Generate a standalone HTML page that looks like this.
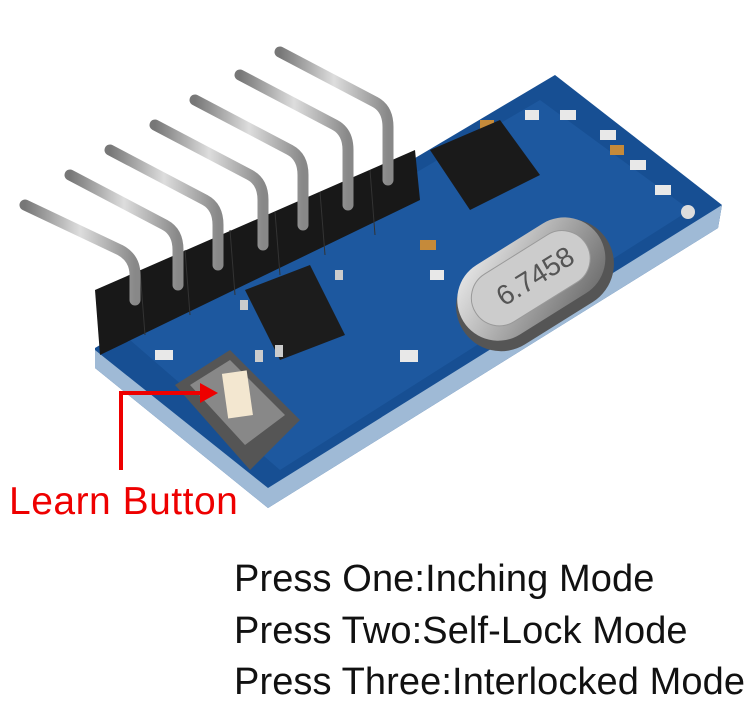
<!DOCTYPE html>
<html><head><meta charset="utf-8"><style>
body{margin:0;background:#fff;width:750px;height:722px;overflow:hidden;font-family:"Liberation Sans",sans-serif}
.t{position:absolute;font-size:38px;color:#111;left:234px;white-space:nowrap;letter-spacing:0.1px}
</style></head><body>
<svg width="750" height="722" style="position:absolute;left:0;top:0">
<defs>
<linearGradient id="pin" x1="0" x2="1"><stop offset="0" stop-color="#777"/><stop offset=".5" stop-color="#ddd"/><stop offset="1" stop-color="#888"/></linearGradient>
<linearGradient id="xt" x1="0" y1="0" x2="1" y2="1"><stop offset="0" stop-color="#eee"/><stop offset=".5" stop-color="#aaa"/><stop offset="1" stop-color="#666"/></linearGradient>
</defs>
<polygon points="95,348 555,75 722,205 718,228 268,508 95,368" fill="#174f93"/>
<polygon points="95,368 268,508 718,228 722,205 268,488 95,350" fill="#9fbad6"/>
<polygon points="130,340 540,100 690,210 280,470" fill="#215fa6" opacity=".6"/>
<g fill="#e8e8e8">
<rect x="560" y="110" width="16" height="10"/><rect x="600" y="130" width="16" height="10"/><rect x="630" y="160" width="16" height="10"/><rect x="655" y="185" width="16" height="10"/>
<rect x="525" y="110" width="14" height="10"/><rect x="430" y="270" width="14" height="10"/><rect x="400" y="350" width="18" height="12"/><rect x="155" y="350" width="18" height="10"/>
</g>
<g fill="#c58a3a"><rect x="480" y="120" width="14" height="10"/><rect x="420" y="240" width="16" height="10"/><rect x="610" y="145" width="14" height="10"/></g>
<circle cx="688" cy="212" r="7" fill="#ddd"/>
<polygon points="430,150 500,120 540,175 470,210" fill="#1a1a1a"/>
<polygon points="245,290 310,265 345,335 280,360" fill="#1c1c1c"/>
<g fill="#ccc"><rect x="255" y="350" width="8" height="12"/><rect x="275" y="345" width="8" height="12"/><rect x="240" y="300" width="8" height="10"/><rect x="335" y="270" width="8" height="10"/></g>
<g transform="translate(535,285) rotate(-32)">
<rect x="-85" y="-45" width="170" height="90" rx="45" fill="#555"/>
<rect x="-80" y="-48" width="160" height="82" rx="41" fill="url(#xt)"/>
<rect x="-65" y="-36" width="130" height="56" rx="28" fill="#ccc" stroke="#999"/>
<text x="-38" y="2" font-size="28" fill="#555" font-family="Liberation Sans">6.7458</text>
</g>
<polygon points="175,385 230,350 300,420 250,470" fill="#555"/>
<polygon points="190,385 230,360 285,415 245,445" fill="#888"/>
<rect x="225" y="372" width="25" height="45" fill="#f3e7d0" transform="rotate(-8 237 395)"/>
<polygon points="95,290 415,150 420,200 100,355" fill="#181818"/>
<g stroke="#333" stroke-width="1">
<line x1="140" y1="270" x2="145" y2="335"/><line x1="185" y1="250" x2="190" y2="315"/><line x1="230" y1="230" x2="235" y2="295"/><line x1="275" y1="212" x2="280" y2="275"/><line x1="320" y1="192" x2="325" y2="255"/><line x1="370" y1="170" x2="375" y2="235"/>
</g>
<g stroke="url(#pin)" stroke-width="11" fill="none" stroke-linecap="round">
<path d="M25,205 L120,250 Q135,258 135,275 L135,300"/>
<path d="M70,175 L165,225 Q178,232 178,250 L178,285"/>
<path d="M110,150 L205,200 Q218,207 218,225 L218,265"/>
<path d="M155,125 L250,175 Q263,182 263,200 L263,245"/>
<path d="M195,100 L290,150 Q303,157 303,175 L303,225"/>
<path d="M240,75 L335,125 Q348,132 348,150 L348,205"/>
<path d="M280,52 L375,102 Q388,109 388,127 L388,180"/>
</g>
<path d="M121,470 L121,393 L205,393" stroke="#e00" stroke-width="4" fill="none"/>
<polygon points="218,393 200,383 200,403" fill="#e00"/>
</svg>
<div style="position:absolute;left:9px;top:480px;font-size:39px;color:#e00;letter-spacing:0.5px">Learn Button</div>
<div class="t" style="top:558px">Press One:Inching Mode</div>
<div class="t" style="top:610px">Press Two:Self-Lock Mode</div>
<div class="t" style="top:661px">Press Three:Interlocked Mode</div>
</body></html>
